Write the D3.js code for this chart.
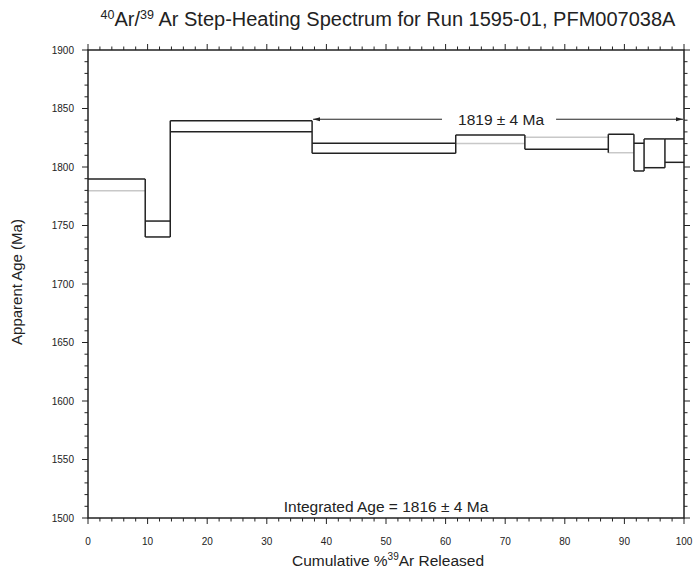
<!DOCTYPE html>
<html>
<head>
<meta charset="utf-8">
<script src="https://cdn.jsdelivr.net/npm/d3@7"></script>
<style>
  body { margin: 0; background: #fff; }
  svg text { font-family: "Liberation Sans", Arial, Helvetica, sans-serif; fill: #222; }
</style>
</head>
<body>
<svg id="chart" width="693" height="568"></svg>
<script>
// step boundaries, cumulative % 39Ar released
const stepEdges = [0, 9.6, 13.8, 37.6, 61.7, 73.3, 87.3, 91.6, 93.3, 96.8, 100]
// upper and lower limit of each step's apparent age (Ma)
const upperAge = [1789.7, 1753.8, 1839.6, 1820.3, 1827.4, 1825.4, 1828.0, 1820.3, 1824.0, 1824.0]
const lowerAge = [1779.8, 1740.2, 1830.2, 1811.7, 1820.0, 1815.1, 1812.2, 1796.6, 1799.4, 1804.0]

const plateauStart = 37.6
const plateauEnd = 100
const plateauAge = 1819
const plateauErr = 4
const integratedAge = 1816
const integratedErr = 4

const xTicks = [0, 10, 20, 30, 40, 50, 60, 70, 80, 90, 100]
const yTicks = [1500, 1550, 1600, 1650, 1700, 1750, 1800, 1850, 1900]

// edges that print faint in the original
const faintLower = [0, 4, 6]
const faintUpper = [5]

const margin = { left: 88, right: 9, top: 50, bottom: 50 }
const width = 693
const height = 568

const svg = d3.select('#chart')

const x = d3.scaleLinear()
    .domain([0, 100])
    .range([margin.left, width - margin.right])

const y = d3.scaleLinear()
    .domain([1500, 1900])
    .range([height - margin.bottom, margin.top])

const ink = '#222'
const faint = '#c8c8c8'

// Steps
const steps = svg.append('g')
    .attr('class', 'steps')
    .attr('fill', 'none')
    .attr('stroke-width', 1.5)

upperAge.forEach((u, i) => {
  const l = lowerAge[i]
  const x0 = x(stepEdges[i])
  const x1 = x(stepEdges[i + 1])
  steps.append('line')
      .attr('x1', x0).attr('x2', x1)
      .attr('y1', y(l)).attr('y2', y(l))
      .attr('stroke', faintLower.includes(i) ? faint : ink)
  steps.append('line')
      .attr('x1', x0).attr('x2', x1)
      .attr('y1', y(u)).attr('y2', y(u))
      .attr('stroke', faintUpper.includes(i) ? faint : ink)
})

// verticals joining neighbouring steps over their full range
stepEdges.slice(1, -1).forEach((e, k) => {
  const lo = Math.min(lowerAge[k], lowerAge[k + 1])
  const hi = Math.max(upperAge[k], upperAge[k + 1])
  steps.append('line')
      .attr('x1', x(e)).attr('x2', x(e))
      .attr('y1', y(lo)).attr('y2', y(hi))
      .attr('stroke', ink)
})

// Frame and ticks
const frame = svg.append('g')
    .attr('class', 'frame')

frame.append('rect')
    .attr('x', x(0))
    .attr('y', y(1900))
    .attr('width', x(100) - x(0))
    .attr('height', y(1500) - y(1900))
    .attr('fill', 'none')
    .attr('stroke', ink)
    .attr('stroke-width', 1.5)

const xMinor = d3.range(0, 101, 2)
const yMinor = d3.range(1500, 1901, 10)

function tickLines(values, scale, horizontal, base, dir) {
  frame.append('g')
      .attr('stroke', ink)
      .attr('stroke-width', 1)
    .selectAll('line')
    .data(values)
    .join('line')
      .each(function(d) {
        const major = horizontal ? d % 10 === 0 : d % 50 === 0
        const len = major ? 6 : 3.5
        const p = scale(d)
        if (horizontal) {
          d3.select(this).attr('x1', p).attr('x2', p)
              .attr('y1', base).attr('y2', base + dir * len)
        } else {
          d3.select(this).attr('y1', p).attr('y2', p)
              .attr('x1', base).attr('x2', base + dir * len)
        }
      })
}

tickLines(xMinor, x, true, y(1500), 1)
tickLines(xMinor, x, true, y(1900), -1)
tickLines(yMinor, y, false, x(0), -1)
tickLines(yMinor, y, false, x(100), 1)

svg.append('g')
    .attr('font-size', 10)
    .attr('text-anchor', 'middle')
    .style('fill', '#333')
  .selectAll('text')
  .data(xTicks)
  .join('text')
    .attr('x', d => x(d))
    .attr('y', y(1500) + 27)
    .text(d => d)

svg.append('g')
    .attr('font-size', 10)
    .attr('text-anchor', 'end')
  .selectAll('text')
  .data(yTicks)
  .join('text')
    .attr('x', x(0) - 14)
    .attr('y', d => y(d) + 3.5)
    .text(d => d)

// Plateau annotation
const plateauTop = d3.max(upperAge.filter((v, i) => stepEdges[i] >= plateauStart))
const arrowY = y(plateauTop) - 15
const labelX = (x(plateauStart) + x(plateauEnd)) / 2 + 3

svg.append('defs').append('marker')
    .attr('id', 'head')
    .attr('viewBox', '0 0 10 10')
    .attr('refX', 10)
    .attr('refY', 5)
    .attr('markerWidth', 7)
    .attr('markerHeight', 7)
    .attr('orient', 'auto')
  .append('path')
    .attr('d', 'M0,2 L10,5 L0,8 Z')
    .attr('fill', ink)

const plateauLabel = svg.append('text')
    .attr('x', labelX)
    .attr('y', arrowY + 6)
    .attr('text-anchor', 'middle')
    .attr('font-size', 15.5)
    .text(`${plateauAge} \u00b1 ${plateauErr} Ma`)

const halfText = plateauLabel.node().getComputedTextLength() / 2

svg.append('line')
    .attr('x1', labelX - halfText - 16).attr('x2', x(plateauStart) + 1)
    .attr('y1', arrowY).attr('y2', arrowY)
    .attr('stroke', ink)
    .attr('marker-end', 'url(#head)')

svg.append('line')
    .attr('x1', labelX + halfText + 12).attr('x2', x(plateauEnd) - 1)
    .attr('y1', arrowY).attr('y2', arrowY)
    .attr('stroke', ink)
    .attr('marker-end', 'url(#head)')

svg.append('text')
    .attr('x', x(50))
    .attr('y', y(1500) - 6)
    .attr('text-anchor', 'middle')
    .attr('font-size', 15.5)
    .text(`Integrated Age = ${integratedAge} \u00b1 ${integratedErr} Ma`)

// Titles
const title = svg.append('text')
    .attr('x', 388)
    .attr('y', 26)
    .attr('text-anchor', 'middle')
    .attr('font-size', 20)
title.append('tspan').attr('font-size', 12.5).attr('dy', -7).text('40')
title.append('tspan').attr('dy', 7).text('Ar/')
title.append('tspan').attr('font-size', 12.5).attr('dy', -7).text('39')
title.append('tspan').attr('dy', 7).text(' Ar Step-Heating Spectrum for Run 1595-01, PFM007038A')

svg.append('text')
    .attr('transform', 'translate(22,282) rotate(-90)')
    .attr('text-anchor', 'middle')
    .attr('font-size', 15)
    .text('Apparent Age (Ma)')

const xTitle = svg.append('text')
    .attr('x', 388)
    .attr('y', 566)
    .attr('text-anchor', 'middle')
    .attr('font-size', 15.5)
xTitle.append('tspan').text('Cumulative %')
xTitle.append('tspan').attr('font-size', 10).attr('dy', -6).text('39')
xTitle.append('tspan').attr('dy', 6).text('Ar Released')
</script>
</body>
</html>
